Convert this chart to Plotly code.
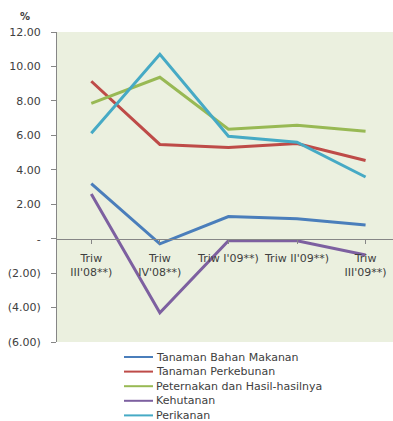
import plotly.graph_objects as go

categories = ["Triw<br>III'08**)", "Triw<br>IV'08**)", "Triw I'09**)", "Triw II'09**)", "Triw<br>III'09**)"]

series_names = [
    "Tanaman Bahan Makanan",
    "Tanaman Perkebunan",
    "Peternakan dan Hasil-hasilnya",
    "Kehutanan",
    "Perikanan",
]
tanaman_bahan_makanan = [3.20, -0.30, 1.28, 1.15, 0.80]
tanaman_perkebunan = [9.14, 5.47, 5.30, 5.53, 4.54]
peternakan = [7.86, 9.37, 6.35, 6.58, 6.24]
kehutanan = [2.60, -4.30, -0.12, -0.12, -0.95]
perikanan = [6.12, 10.70, 5.95, 5.60, 3.58]

series_values = [tanaman_bahan_makanan, tanaman_perkebunan, peternakan, kehutanan, perikanan]
colors = ["#4a7ebb", "#be4b48", "#98b954", "#7d60a0", "#46aac5"]

y_tickvals = [12, 10, 8, 6, 4, 2, 0, -2, -4, -6]
y_ticktext = ["12.00", "10.00", "8.00", "6.00", "4.00", "2.00", "-", "(2.00)", "(4.00)", "(6.00)"]

W, H = 393, 421
M_L, M_R, M_T, M_B = 57, 0, 32, 79
PW, PH = W - M_L - M_R, H - M_T - M_B


def px_x(p):
    return (p - M_L) / PW


def px_y(p):
    return (H - M_B - p) / PH


fig = go.Figure()
for name, vals, col in zip(series_names, series_values, colors):
    fig.add_trace(go.Scatter(
        x=list(range(len(categories))), y=vals, name=name, mode="lines",
        line=dict(color=col, width=3),
    ))

text_color = "#404040"
axis_color = "#868686"
font = "DejaVu Sans, sans-serif"

# legend drawn below the plot as swatch lines plus labels
shapes, annotations = [], []
legend_top, legend_step = 357, 14.6
for i, (name, col) in enumerate(zip(series_names, colors)):
    yc = legend_top + i * legend_step
    shapes.append(dict(
        type="line", xref="paper", yref="paper",
        x0=px_x(124), x1=px_x(153), y0=px_y(yc), y1=px_y(yc),
        line=dict(color=col, width=2),
    ))
    annotations.append(dict(
        text=name, xref="paper", yref="paper",
        x=px_x(154), y=px_y(yc), xanchor="left", yanchor="middle",
        showarrow=False, font=dict(size=11, color=text_color),
    ))

annotations.append(dict(
    text="<b>%</b>", xref="paper", yref="paper",
    x=px_x(25), y=px_y(16), xanchor="center", yanchor="middle",
    showarrow=False, font=dict(size=10, color=text_color),
))

fig.update_layout(
    width=W, height=H,
    margin=dict(l=M_L, r=M_R, t=M_T, b=M_B, autoexpand=False),
    paper_bgcolor="white",
    plot_bgcolor="#ebf0df",
    font=dict(family=font, size=11, color=text_color),
    showlegend=False,
    shapes=shapes,
    annotations=annotations,
    xaxis=dict(
        range=[-0.5, 4.4],
        tickmode="array",
        tickvals=list(range(len(categories))),
        ticktext=categories,
        tickson="boundaries",
        anchor="free", position=1/3,
        showline=True, linecolor=axis_color, linewidth=1,
        ticks="outside", ticklen=4, tickcolor=axis_color,
        ticklabelstandoff=5,
        showgrid=False, zeroline=False,
        tickfont=dict(size=11, color=text_color),
    ),
    yaxis=dict(
        range=[-6, 12],
        tickmode="array", tickvals=y_tickvals, ticktext=y_ticktext,
        showline=True, linecolor=axis_color, linewidth=1,
        ticks="outside", ticklen=5, tickcolor=axis_color,
        showgrid=False, zeroline=False,
        ticklabelstandoff=8,
        tickfont=dict(size=11, color=text_color),
    ),
)

fig.write_html("out.html")
